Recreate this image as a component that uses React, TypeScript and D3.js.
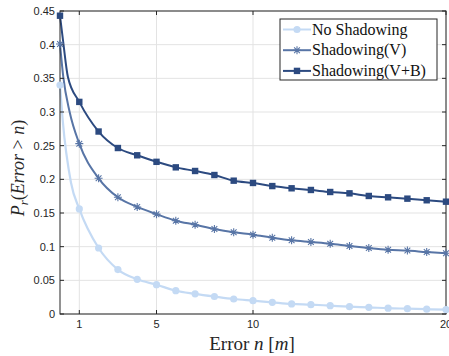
import React from "react";
import * as d3 from "d3";

const nValues = [0, 1, 2, 3, 4, 5, 6, 7, 8, 9, 10, 11, 12, 13, 14, 15, 16, 17, 18, 19, 20];
const noShadowing = [0.34, 0.156, 0.098, 0.066, 0.0515, 0.0435, 0.0346, 0.030, 0.026, 0.0223, 0.0198, 0.0173, 0.0149, 0.0139, 0.0124, 0.0109, 0.0099, 0.0086, 0.0079, 0.0071, 0.0065];
const shadowingV = [0.401, 0.253, 0.2015, 0.1733, 0.159, 0.1483, 0.1386, 0.1326, 0.1262, 0.1213, 0.1178, 0.1133, 0.1094, 0.1069, 0.1044, 0.101, 0.098, 0.0955, 0.0942, 0.092, 0.0902];
const shadowingVB = [0.443, 0.315, 0.271, 0.2465, 0.2357, 0.226, 0.2178, 0.2124, 0.2064, 0.198, 0.1946, 0.190, 0.1867, 0.1842, 0.1812, 0.1792, 0.1753, 0.1733, 0.1713, 0.1689, 0.1668];

const noShadowingCurveN = [0.14, 0.57];
const noShadowingCurveP = [0.288, 0.195];
const shadowingVCurveN = [0.17, 0.5];
const shadowingVCurveP = [0.352, 0.3];
const shadowingVBCurveN = [0.17, 0.41];
const shadowingVBCurveP = [0.403, 0.352];

const xTicks = [1, 5, 10, 20];
const yTicks = [0, 0.05, 0.1, 0.15, 0.2, 0.25, 0.3, 0.35, 0.4, 0.45];
const seriesNames = ["No Shadowing", "Shadowing(V)", "Shadowing(V+B)"];
const colors = ["#c4daf4", "#5875a6", "#2c4a80"];

const W = 449, H = 356;
const L = 60, R = 446, T = 11, B = 314;

export default function App() {
  const x = d3.scaleLinear().domain([0, 20]).range([L, R]);
  const y = d3.scaleLinear().domain([0, 0.45]).range([B, T]);

  const series = [
    { vals: noShadowing, cn: noShadowingCurveN, cp: noShadowingCurveP, marker: "circle" },
    { vals: shadowingV, cn: shadowingVCurveN, cp: shadowingVCurveP, marker: "star" },
    { vals: shadowingVB, cn: shadowingVBCurveN, cp: shadowingVBCurveP, marker: "square" },
  ];

  const line = d3
    .line<[number, number]>()
    .x((d) => x(d[0]))
    .y((d) => y(d[1]))
    .curve(d3.curveMonotoneX);

  const marker = (kind: string, cx: number, cy: number, color: string, key: any) => {
    if (kind === "circle") return <circle key={key} cx={cx} cy={cy} r={3.6} fill={color} />;
    if (kind === "square")
      return <rect key={key} x={cx - 3.2} y={cy - 3.2} width={6.4} height={6.4} fill={color} />;
    const s = 4;
    const d = s * 0.72;
    return (
      <path
        key={key}
        d={`M${cx - s},${cy}L${cx + s},${cy}M${cx},${cy - s}L${cx},${cy + s}M${cx - d},${cy - d}L${cx + d},${cy + d}M${cx - d},${cy + d}L${cx + d},${cy - d}`}
        stroke={color}
        strokeWidth={1.1}
        fill="none"
      />
    );
  };

  const tickFont = "'Liberation Sans', Arial, Helvetica, sans-serif";
  const serif = "'Liberation Serif', 'Times New Roman', serif";
  const axisColor = "#262626";

  return (
    <svg width={W} height={H} style={{ position: "absolute", left: 0, top: 0, background: "#fff" }}>
      <rect x={0} y={0} width={W} height={H} fill="#fff" />
      {/* grid */}
      {yTicks.map((t) => (
        <line key={"gy" + t} x1={L} x2={R} y1={y(t)} y2={y(t)} stroke="#e3e3e3" strokeWidth={1} />
      ))}
      {xTicks.map((t) => (
        <line key={"gx" + t} x1={x(t)} x2={x(t)} y1={T} y2={B} stroke="#e3e3e3" strokeWidth={1} />
      ))}
      {/* series lines */}
      {series.map((s, i) => {
        const pts: [number, number][] = s.vals.map((v, j) => [nValues[j], v] as [number, number]);
        const curvePts = s.cn.map((n, j) => [n, s.cp[j]] as [number, number]);
        const all = [...pts, ...curvePts].sort((a, b) => a[0] - b[0]);
        return (
          <path key={"l" + i} d={line(all) || ""} fill="none" stroke={colors[i]} strokeWidth={i === 0 ? 2.2 : 2} />
        );
      })}
      {/* axes box */}
      <rect x={L} y={T} width={R - L} height={B - T} fill="none" stroke={axisColor} strokeWidth={1} />
      {yTicks.map((t) => (
        <g key={"ty" + t}>
          <line x1={L} x2={L + 4} y1={y(t)} y2={y(t)} stroke={axisColor} />
          <line x1={R} x2={R - 4} y1={y(t)} y2={y(t)} stroke={axisColor} />
          <text x={L - 5} y={y(t) + 4} textAnchor="end" fontFamily={tickFont} fontSize={11} fill={axisColor}>
            {t === 0 ? "0" : String(t)}
          </text>
        </g>
      ))}
      {xTicks.map((t) => (
        <g key={"tx" + t}>
          <line x1={x(t)} x2={x(t)} y1={B} y2={B - 4} stroke={axisColor} />
          <line x1={x(t)} x2={x(t)} y1={T} y2={T + 4} stroke={axisColor} />
          <text x={x(t)} y={B + 14} textAnchor="middle" fontFamily={tickFont} fontSize={11} fill={axisColor}>
            {t}
          </text>
        </g>
      ))}
      {/* markers */}
      {series.map((s, i) => (
        <g key={"m" + i}>{s.vals.map((v, j) => marker(s.marker, x(nValues[j]), y(v), colors[i], j))}</g>
      ))}
      {/* x label */}
      <text x={252} y={350} textAnchor="middle" fontFamily={serif} fontSize={19} fill={axisColor}>
        Error <tspan fontStyle="italic">n</tspan> [<tspan fontStyle="italic">m</tspan>]
      </text>
      {/* y label */}
      <text
        transform="translate(24,168) rotate(-90)"
        textAnchor="middle"
        fontFamily={serif}
        fontSize={18}
        fill={axisColor}
      >
        <tspan fontStyle="italic">P</tspan>
        <tspan fontStyle="italic" fontSize={13} dy={4}>r</tspan>
        <tspan dy={-4}>(</tspan>
        <tspan fontStyle="italic">Error</tspan>
        <tspan> &gt; </tspan>
        <tspan fontStyle="italic">n</tspan>
        <tspan>)</tspan>
      </text>
      {/* legend */}
      <rect x={280} y={19} width={157} height={61} fill="#fff" stroke={axisColor} strokeWidth={1} />
      {seriesNames.map((name, i) => {
        const ly = 29.5 + i * 20.7;
        return (
          <g key={"lg" + i}>
            <line x1={283} x2={311} y1={ly} y2={ly} stroke={colors[i]} strokeWidth={2} />
            {marker(series[i].marker, 297, ly, colors[i], "lm" + i)}
            <text x={312} y={ly + 5} fontFamily={serif} fontSize={16} fill="#111">
              {name}
            </text>
          </g>
        );
      })}
    </svg>
  );
}
